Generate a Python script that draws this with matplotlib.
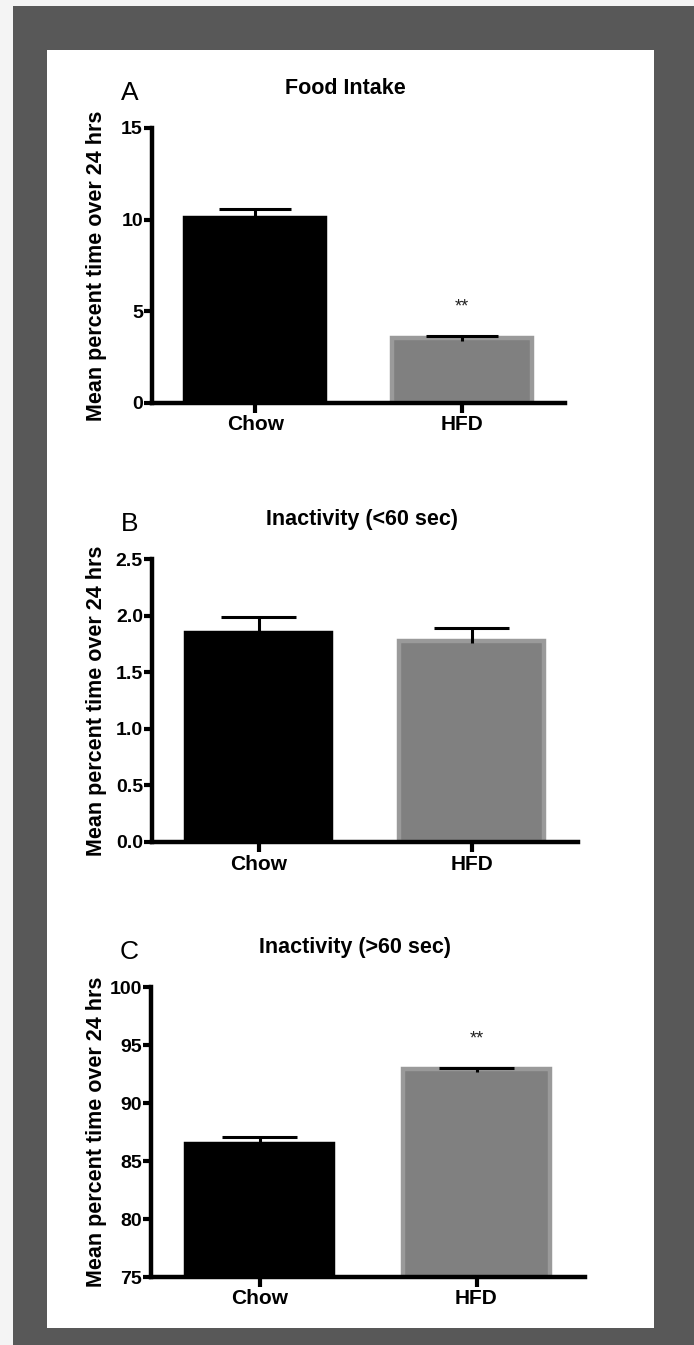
import matplotlib.pyplot as plt
from matplotlib.patches import Rectangle

plt.rcParams["font.family"] = ["Liberation Sans", "DejaVu Sans"]

groups = ["Chow", "HFD"]

food_mean = [10.1, 3.55]
food_err = [0.5, 0.12]

short_mean = [1.85, 1.78]
short_err = [0.14, 0.11]

long_mean = [86.45, 92.9]
long_err = [0.62, 0.15]

W, H = 694, 1345
BAR_COLORS = ["#000000", "#808080"]
EDGE_COLORS = ["#000000", "#9a9a9a"]


def px_box(left, right, top, bottom):
    return [left / W, 1 - bottom / H, (right - left) / W, (bottom - top) / H]


def draw_panel(fig, box, means, errs, ylim, yticks, ylabels, title, title_dx, letter, stars):
    ax = fig.add_axes(box)
    ax.set_facecolor("white")
    x = list(range(len(groups)))
    ax.bar(x, means, width=0.68, color=BAR_COLORS, edgecolor=EDGE_COLORS,
           linewidth=3.2, zorder=2)
    tops = [m + e for m, e in zip(means, errs)]
    dip = (ylim[1] - ylim[0]) * 0.01
    ax.vlines(x, [m - dip for m in means], tops, colors="black", linewidth=2.2, zorder=3)
    ax.hlines(tops, [i - 0.175 for i in x], [i + 0.175 for i in x],
              colors="black", linewidth=2.2, zorder=3)
    for i, s in enumerate(stars):
        if s:
            ax.annotate(s, (x[i], tops[i]), xytext=(0, 20), textcoords="offset pixels",
                        ha="center", va="bottom", fontsize=13, color="#222222")
    ax.set_xlim(-0.5, 1.5)
    ax.set_ylim(*ylim)
    ax.set_yticks(yticks)
    ax.set_yticklabels(ylabels, fontsize=14, fontweight="bold")
    ax.set_xticks(x)
    ax.set_xticklabels(groups, fontsize=15, fontweight="bold")
    for side in ["top", "right"]:
        ax.spines[side].set_visible(False)
    for side in ["left", "bottom"]:
        ax.spines[side].set_linewidth(3.2)
        ax.spines[side].set_zorder(4)
    ax.tick_params(axis="y", direction="out", length=5.5, width=3.0, pad=1.0)
    ax.tick_params(axis="x", direction="out", length=7, width=3.0, pad=2.0)
    ax.annotate(title, (0, 1), xycoords="axes fraction", xytext=(title_dx, 40),
                textcoords="offset pixels", ha="center", va="center",
                fontsize=15.5, fontweight="bold")
    ax.annotate(letter, (0, 1), xycoords="axes fraction", xytext=(-22, 35),
                textcoords="offset pixels", ha="center", va="center", fontsize=19)
    return ax


fig = plt.figure(figsize=(W / 100, H / 100), dpi=100)
fig.patch.set_facecolor("#f4f4f4")

# dark mount and white sheet behind the panels
fig.patches.append(Rectangle((13 / W, 0), 1 - 13 / W, 1 - 6 / H, transform=fig.transFigure,
                             facecolor="#585858", edgecolor="none", zorder=-2))
fig.patches.append(Rectangle((47 / W, 1 - 1328 / H), (654 - 47) / W, (1328 - 50) / H,
                             transform=fig.transFigure, facecolor="white",
                             edgecolor="none", zorder=-1))

panels = [
    ((152, 565, 128, 403), food_mean, food_err, (0, 15), [0, 5, 10, 15],
     ["0", "5", "10", "15"], "Food Intake", 193, "A", ["", "**"]),
    ((152, 578, 559, 842), short_mean, short_err, (0, 2.5), [0, 0.5, 1.0, 1.5, 2.0, 2.5],
     ["0.0", "0.5", "1.0", "1.5", "2.0", "2.5"], "Inactivity (<60 sec)", 210, "B", ["", ""]),
    ((151, 585, 987, 1277), long_mean, long_err, (75, 100), [75, 80, 85, 90, 95, 100],
     ["75", "80", "85", "90", "95", "100"], "Inactivity (>60 sec)", 204, "C", ["", "**"]),
]

for box, means, errs, ylim, yticks, ylabels, title, tdx, letter, stars in panels:
    draw_panel(fig, px_box(*box), means, errs, ylim, yticks, ylabels, title, tdx, letter, stars)
    top, bottom = box[2], box[3]
    fig.text(97 / W, 1 - (top + bottom) / 2 / H, "Mean percent time over 24 hrs",
             rotation=90, ha="center", va="center", fontsize=15.5, fontweight="bold")

fig.savefig("out.png", dpi=100)
